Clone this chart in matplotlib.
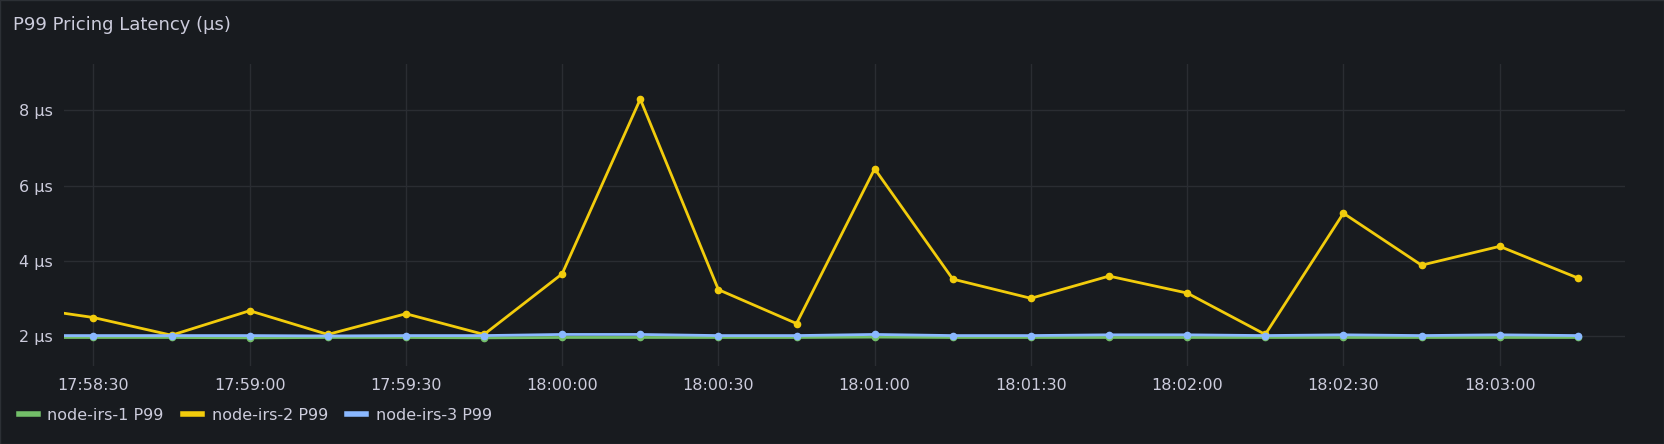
import matplotlib
matplotlib.use("Agg")
import matplotlib.pyplot as plt
import matplotlib.dates as mdates
import datetime as dt

times = ["17:58:15","17:58:30","17:58:45","17:59:00","17:59:15","17:59:30","17:59:45",
         "18:00:00","18:00:15","18:00:30","18:00:45","18:01:00","18:01:15","18:01:30",
         "18:01:45","18:02:00","18:02:15","18:02:30","18:02:45","18:03:00","18:03:15"]
node1 = [1.97,1.97,1.97,1.96,1.97,1.97,1.96,1.97,1.97,1.97,1.97,1.98,1.97,1.97,1.97,1.97,1.97,1.97,1.97,1.97,1.97]
node2 = [2.8,2.5,2.03,2.68,2.05,2.6,2.05,3.66,8.3,3.24,2.34,6.45,3.52,3.01,3.6,3.15,2.05,5.27,3.89,4.39,3.55]
node3 = [2.02,2.02,2.02,2.02,2.01,2.02,2.02,2.05,2.05,2.02,2.02,2.05,2.02,2.02,2.04,2.04,2.02,2.04,2.02,2.04,2.02]
names = ["node-irs-1 P99","node-irs-2 P99","node-irs-3 P99"]
colors = ["#73bf69","#f2cc0c","#8ab8ff"]

base = dt.datetime(2024,1,1)
def p(t):
    h,m,s = map(int,t.split(":"))
    return base.replace(hour=h,minute=m,second=s)
x = [p(t) for t in times]

W, H = 1568, 418
bg = "#181b1f"
fig = plt.figure(figsize=(16.65,4.44), dpi=100, facecolor=bg)
fig.patches.append(plt.Rectangle((0.5/1665,0.5/444),1-1/1665,1-1/444,transform=fig.transFigure,
                                 fill=False,edgecolor="#2c3035",lw=1))
ax = fig.add_axes([60/W, 1-345/H, (1530-60)/W, (345-60)/H], facecolor=bg)
for vals,c,n in zip([node1,node2,node3],colors,names):
    ax.plot(x, vals, color=c, lw=2, marker="o", ms=4.5, label=n, zorder=3)
ax.set_xlim(p("17:58:30")-dt.timedelta(seconds=5.7), p("18:03:15")+dt.timedelta(seconds=9))
ax.set_ylim(1.2, 9.24)
ax.set_yticks([2,4,6,8])
ax.set_yticklabels(["2 µs","4 µs","6 µs","8 µs"])
ax.xaxis.set_major_locator(mdates.SecondLocator(bysecond=[0,30]))
ax.xaxis.set_major_formatter(mdates.DateFormatter("%H:%M:%S"))
ax.grid(True, color="#2a2d32", lw=1)
for s in ax.spines.values():
    s.set_visible(False)
ax.tick_params(colors="#ccccdc", labelsize=11.5, length=0, pad=8)
fig.text(12/W, 1-24/H, "P99 Pricing Latency (µs)", color="#ccccdc", fontsize=13, va="center", fontweight="medium")
leg = fig.legend(loc="center left", bbox_to_anchor=(4/W, 1-391/H), ncol=3, frameon=False,
                 labelcolor="#ccccdc", fontsize=11.5, handlelength=1.2, columnspacing=1.2, handletextpad=0.6)
for h in leg.legend_handles:
    h.set_marker(""); h.set_linewidth(4)
fig.savefig("out.png", dpi=100, facecolor=bg)
